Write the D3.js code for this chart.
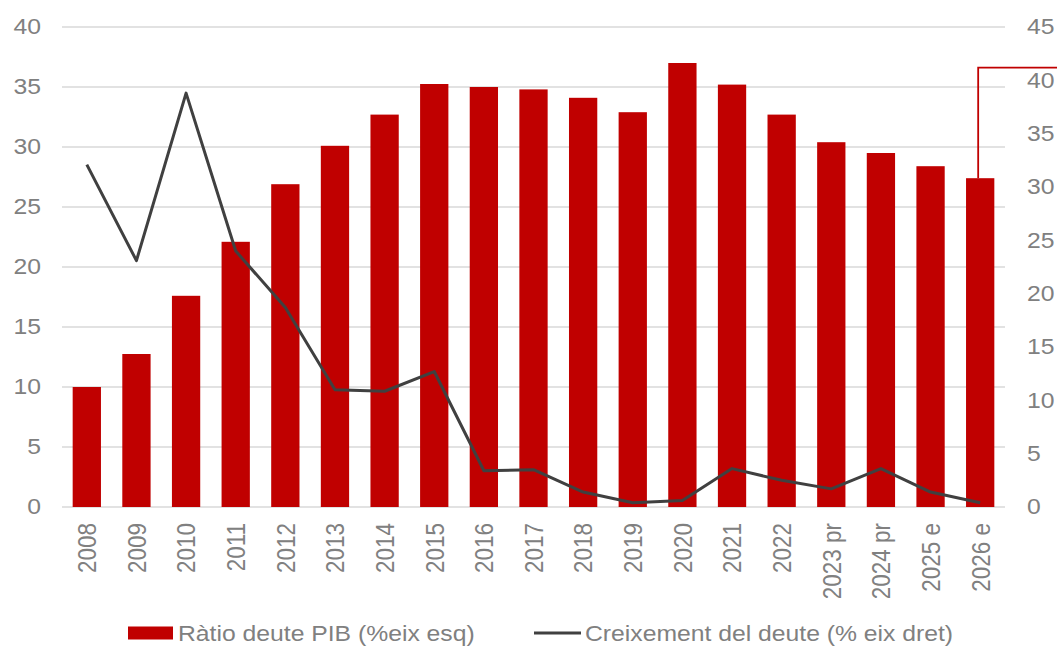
<!DOCTYPE html>
<html>
<head>
<meta charset="UTF-8">
<title></title>
<style>
  body { margin: 0; background: #fff; font-family: 'Liberation Sans', Arial, sans-serif; }
  .tick text { fill: #808080; }
</style>
</head>
<body>
<div id="container"></div>
<script src="https://d3js.org/d3.v7.min.js"></script>
<script>

var years = ["2008","2009","2010","2011","2012","2013","2014","2015","2016","2017",
             "2018","2019","2020","2021","2022","2023 pr","2024 pr","2025 e","2026 e"];
var ratio = [10.0,12.75,17.6,22.1,26.9,30.1,32.7,35.25,35.0,34.8,
             34.1,32.9,37.0,35.2,32.7,30.4,29.5,28.4,27.4];
var growth = [32.1,23.1,38.8,24.0,18.7,11.0,10.85,12.7,3.4,3.5,
              1.4,0.4,0.6,3.6,2.5,1.7,3.6,1.4,0.4];
var leftTicks = [0,5,10,15,20,25,30,35,40];
var rightTicks = [0,5,10,15,20,25,30,35,40,45];

var W = 1057, H = 646;
var m = {top: 27, right: 52, bottom: 139, left: 62};
var stretch = 1.15;   // text in the original is a bit wider than tall

var svg = d3.select("#container").append("svg")
  .attr("width", W).attr("height", H);

var x = d3.scaleBand().domain(years).range([m.left, W - m.right]).paddingInner(0.43).paddingOuter(0.215);
var yL = d3.scaleLinear().domain([0, 40]).range([H - m.bottom, m.top]);
var yR = d3.scaleLinear().domain([0, 45]).range([H - m.bottom, m.top]);

// gridlines
svg.append("g").selectAll("line").data(leftTicks).enter().append("line")
  .attr("x1", m.left).attr("x2", W - m.right)
  .attr("y1", d => yL(d)).attr("y2", d => yL(d))
  .attr("stroke", "#d9d9d9").attr("stroke-width", 1.3);

// bars
svg.append("g").selectAll("rect").data(ratio).enter().append("rect")
  .attr("x", (d, i) => x(years[i]))
  .attr("width", x.bandwidth())
  .attr("y", d => yL(d))
  .attr("height", d => yL(0) - yL(d))
  .attr("fill", "#c00000");

// line
var line = d3.line()
  .x((d, i) => x(years[i]) + x.bandwidth() / 2)
  .y(d => yR(d));
svg.append("path").datum(growth)
  .attr("d", line)
  .attr("fill", "none")
  .attr("stroke", "#404040")
  .attr("stroke-width", 3)
  .attr("stroke-linejoin", "round");

// callout bracket on last bar
var last = years.length - 1;
var cx = x(years[last]) + x.bandwidth() / 2 - 2;
svg.append("path")
  .attr("d", "M" + cx + "," + yL(ratio[last]) + "V" + yR(41.2) + "H" + W)
  .attr("fill", "none").attr("stroke", "#c00000").attr("stroke-width", 1.8);

// axes
var axL = svg.append("g").attr("transform", "translate(" + m.left + ",0)")
  .call(d3.axisLeft(yL).tickValues(leftTicks).tickSize(0));
axL.select(".domain").remove();
axL.selectAll("text")
  .attr("x", 0).attr("font-size", 21.5)
  .attr("transform", "translate(-21,0) scale(" + stretch + ",1)");

var axR = svg.append("g").attr("transform", "translate(" + (W - m.right) + ",0)")
  .call(d3.axisRight(yR).tickValues(rightTicks).tickSize(0));
axR.select(".domain").remove();
axR.selectAll("text")
  .attr("x", 0).attr("font-size", 21.5)
  .attr("transform", "translate(22,0) scale(" + stretch + ",1)");

var axX = svg.append("g").attr("transform", "translate(0," + (H - m.bottom) + ")")
  .call(d3.axisBottom(x).tickSize(0));
axX.select(".domain").remove();
axX.selectAll("text")
  .attr("font-size", 22.5)
  .attr("transform", "translate(0,16) scale(" + stretch + ",1) rotate(-90)")
  .attr("text-anchor", "end")
  .attr("x", 0).attr("y", 0).attr("dy", "0.36em");

// legend
var lg = svg.append("g").attr("transform", "translate(0,633)");
lg.append("rect").attr("x", 128).attr("y", -6.5).attr("width", 45).attr("height", 13).attr("fill", "#c00000");
lg.append("text").attr("fill", "#808080").attr("font-size", 21.5)
  .attr("transform", "translate(178,7.5) scale(" + stretch + ",1)")
  .text("Ràtio deute PIB (%eix esq)");
lg.append("line").attr("x1", 534).attr("x2", 581).attr("y1", 0).attr("y2", 0)
  .attr("stroke", "#404040").attr("stroke-width", 3);
lg.append("text").attr("fill", "#808080").attr("font-size", 21.5)
  .attr("transform", "translate(585,7.5) scale(" + stretch + ",1)")
  .text("Creixement del deute (% eix dret)");

</script>
</body>
</html>
